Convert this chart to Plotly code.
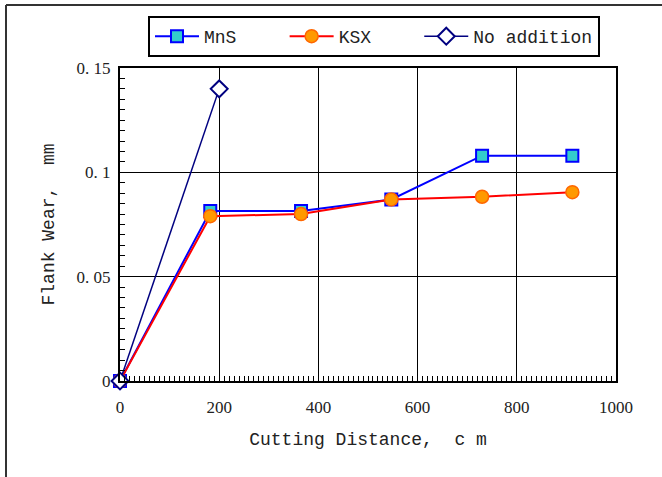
import plotly.graph_objects as go

mns_x = [0, 182, 365, 547, 730, 912]
mns_y = [0, 0.0815, 0.0815, 0.087, 0.108, 0.108]
ksx_x = [0, 182, 365, 547, 730, 912]
ksx_y = [0, 0.079, 0.080, 0.087, 0.0883, 0.0905]
noadd_x = [0, 200]
noadd_y = [0, 0.140]

series_names = ["MnS", "KSX", "No addition"]
y_ticks = [0, 0.05, 0.1, 0.15]
y_tick_text = ["0", "0. 05", "0. 1", "0. 15"]
x_ticks = [0, 200, 400, 600, 800, 1000]

FONT = "Liberation Mono, Courier New, monospace"
SERIF = "Liberation Serif, Times New Roman, serif"
NB = "\u00a0"

fig = go.Figure()
fig.add_trace(go.Scatter(
    x=mns_x, y=mns_y, name=series_names[0] + NB * 4, mode="lines+markers",
    line=dict(color="#0000FF", width=2),
    marker=dict(symbol="square", size=12, color="#33CCCC", line=dict(color="#0000FF", width=2)),
    cliponaxis=False))
fig.add_trace(go.Scatter(
    x=ksx_x, y=ksx_y, name=series_names[1] + NB * 4, mode="lines+markers",
    line=dict(color="#FF0000", width=2),
    marker=dict(symbol="circle", size=13, color="#FF9900", line=dict(color="#FF6600", width=1.5)),
    cliponaxis=False))
fig.add_trace(go.Scatter(
    x=noadd_x, y=noadd_y, name=series_names[2], mode="lines+markers",
    line=dict(color="#000080", width=1.5),
    marker=dict(symbol="diamond", size=13, color="white", line=dict(color="#000080", width=2)),
    cliponaxis=False))

W, H = 662, 477
L, R, T, B = 120, 46, 68, 96
pw, ph = W - L - R, H - T - B

def px(x):
    return (x - L) / pw

def py(y):
    return (H - B - y) / ph

fig.update_layout(
    width=W, height=H,
    margin=dict(l=L, r=R, t=T, b=B, autoexpand=False),
    paper_bgcolor="white", plot_bgcolor="white",
    font=dict(family=SERIF, size=16, color="#222"),
    showlegend=True,
    legend=dict(
        orientation="h", x=px(148), y=py(16), xanchor="left", yanchor="top",
        bordercolor="black", borderwidth=2, bgcolor="white",
        font=dict(family=FONT, size=18, color="#222"),
        itemwidth=44,
    ),
    xaxis=dict(
        range=[0, 1000], tickvals=x_ticks, ticks="inside", ticklen=5, tickwidth=1,
        tickcolor="black", ticklabelstandoff=10,
        showline=True, linecolor="black", linewidth=2, mirror=True,
        showgrid=True, gridcolor="black", gridwidth=1, zeroline=False,
        minor=dict(dtick=10, ticks="inside", ticklen=5, tickcolor="black", tickwidth=1, showgrid=False),
        title=dict(text="Cutting Distance,  c m", font=dict(family=FONT, size=18, color="#222"), standoff=16),
        tickfont=dict(family=SERIF, size=17, color="#222"),
    ),
    yaxis=dict(
        range=[0, 0.15], tickvals=y_ticks, ticktext=y_tick_text, ticks="inside", ticklen=5,
        tickcolor="black", tickwidth=1, ticklabelstandoff=4,
        showline=True, linecolor="black", linewidth=2, mirror=True,
        showgrid=True, gridcolor="black", gridwidth=1, zeroline=False,
        minor=dict(dtick=0.005, ticks="inside", ticklen=5, tickcolor="black", tickwidth=1, showgrid=False),
        title=dict(text="Flank Wear,  mm", font=dict(family=FONT, size=18, color="#222"), standoff=17),
        tickfont=dict(family=SERIF, size=17, color="#222"),
    ),
    shapes=[
        dict(type="line", xref="paper", yref="paper", x0=px(6), x1=px(6), y0=py(5), y1=py(490),
             line=dict(color="#333", width=2)),
        dict(type="line", xref="paper", yref="paper", x0=px(6), x1=px(680), y0=py(5), y1=py(5),
             line=dict(color="#333", width=2)),
    ],
)

fig.write_html("out.html", config={"displayModeBar": False},
               post_script="document.body.style.margin='0';")
